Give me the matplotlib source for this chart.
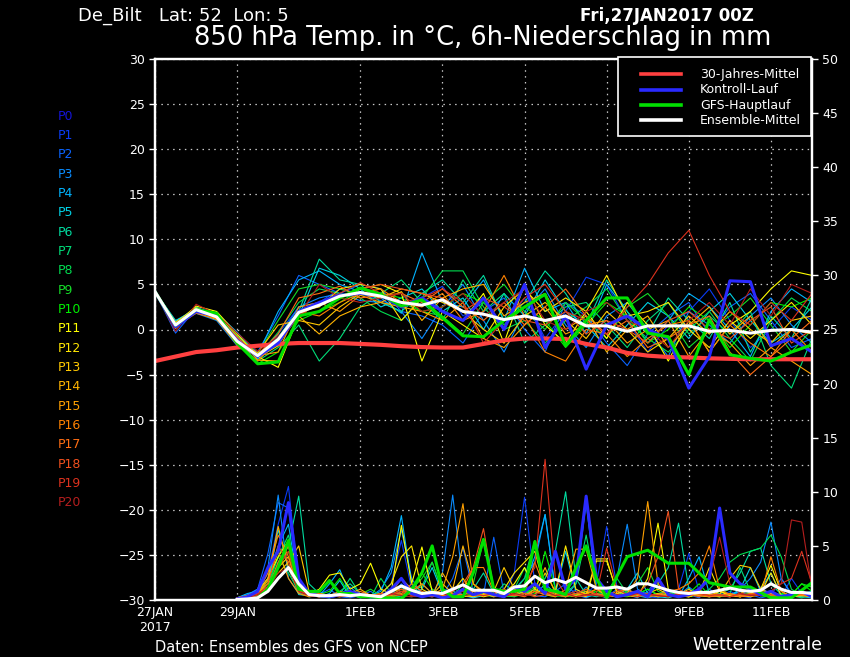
import numpy as np
import matplotlib
matplotlib.use("Agg")
import matplotlib.pyplot as plt
from matplotlib.lines import Line2D
from matplotlib.patches import Rectangle

# time axes in hours after 27JAN2017 00Z
temp_hours = np.arange(0, 385, 12)
precip_hours = np.arange(48, 385, 6)

tick_hours = [0, 48, 120, 168, 216, 264, 312, 360]
tick_labels = ["27JAN\n2017", "29JAN", "1FEB", "3FEB", "5FEB", "7FEB", "9FEB", "11FEB"]

member_names = ["P%d" % i for i in range(21)]
member_colors = ["#1414d8", "#0a3cf5", "#0a64ff", "#0a8cff", "#00b4ff", "#00d2e6",
                 "#00dca0", "#00dc78", "#00dc50", "#14dc28", "#00f000", "#ffff00",
                 "#ffe600", "#ffc800", "#ffb400", "#ffa000", "#ff8200", "#ff6e14",
                 "#f0501e", "#dc321e", "#b41e1e"]

legend_labels = ["30-Jahres-Mittel", "Kontroll-Lauf", "GFS-Hauptlauf", "Ensemble-Mittel"]
legend_colors = ["#ff4040", "#2a2aff", "#00e000", "white"]

# 850 hPa temperature (deg C), 12-hourly
climate_temp = [-3.5, -3.0, -2.5, -2.3, -2.0, -1.8, -1.6, -1.5, -1.5, -1.5, -1.6, -1.7, -1.85,
                -1.95, -2.0, -2.0, -1.6, -1.2, -1.0, -1.0, -1.05, -1.6, -2.0, -2.6, -2.9, -3.05,
                -3.1, -3.2, -3.25, -3.3, -3.3, -3.3, -3.3]
mean_temp = [4.2, 0.5, 2.2, 1.4, -1.3, -2.9, -1.1, 1.9, 2.7, 3.7, 4.1, 3.7, 3.0, 2.7, 3.3, 2.0,
             1.7, 1.1, 1.5, 1.0, 1.5, 0.4, 0.4, -0.2, 0.4, 0.4, 0.4, -0.2, -0.1, -0.4, -0.1, 0.0, -0.3]
control_temp = [4.2, 0.3, 2.0, 1.5, -1.2, -3.0, -1.5, 2.0, 3.0, 3.8, 4.0, 3.8, 2.5, 3.5, 2.0, 1.0,
                3.5, 0.0, 5.0, -2.0, 1.5, -4.4, 0.5, 1.5, 0.0, -1.0, -6.5, -3.0, 5.4, 5.3, -1.8, -1.0, -2.5]
gfs_temp = [4.2, 0.5, 2.2, 1.8, -1.5, -3.8, -3.6, 1.5, 2.0, 3.5, 4.6, 3.9, 2.6, 3.3, 1.3, -0.7,
            -0.8, 1.0, 2.5, 3.9, -1.8, 1.0, 3.5, 3.5, -0.4, -0.8, -5.0, 1.1, -2.8, -3.2, -3.5, -2.5, -1.7]

p1_temp = [4.2, 0.2, 2.0, 1.6, -0.5, -3.2, -0.5, 2.5, 3.0, 4.5, 4.0, 3.2, 2.5, 3.5, 4.8, 1.5, 3.0,
           0.5, 3.5, -1.0, 2.0, 5.8, 5.0, 1.0, -2.5, 0.5, 2.0, 4.5, 1.0, -2.0, 0.0, 2.5, 1.0]
p2_temp = [4.2, -0.4, 2.3, 1.2, -0.8, -2.5, 1.5, 6.0, 5.0, 4.0, 5.0, 4.5, 2.0, 1.5, 0.5, -1.5, 2.0,
           3.5, 0.0, -2.5, 3.0, 1.5, -1.5, -4.0, -0.5, 1.5, 3.0, -0.5, 2.5, 4.0, 1.0, -2.0, -1.0]
p3_temp = [4.2, 0.6, 1.8, 1.0, -1.8, -3.0, -1.0, 2.5, 3.5, 4.0, 3.2, 3.0, 2.0, -1.0, 2.5, 5.0, 1.0,
           -2.5, 2.0, 4.5, 0.5, -2.0, 1.5, 3.0, 0.0, -3.0, 2.0, 0.5, -1.5, 1.5, 3.5, 0.5, -1.5]
p4_temp = [4.2, 0.9, 2.4, 1.8, -0.3, -2.8, 2.0, 5.5, 6.5, 5.0, 4.2, 3.5, 1.8, 8.5, 3.0, 2.5, 5.5,
           1.0, 6.8, 2.0, 3.0, -0.5, 5.0, 2.0, -1.5, 1.0, 4.0, 2.5, 0.0, -3.0, 2.0, 4.5, 3.0]
p5_temp = [4.2, 1.0, 2.2, 1.5, -1.0, -3.3, -1.5, 1.5, 6.8, 6.0, 4.5, 2.5, 3.5, 4.5, 2.0, 3.5, 0.0,
           4.0, 1.5, 5.5, 2.0, 0.5, -2.0, 0.5, 3.0, 1.5, -1.0, 2.0, 4.0, 1.0, -1.5, 0.0, 2.5]
p6_temp = [4.2, 0.4, 2.5, 1.4, -1.2, -3.0, -0.8, 2.0, 7.8, 5.5, 5.0, 3.0, 2.0, 4.0, 5.5, 3.0, 6.0,
           1.0, 3.0, 6.5, 4.0, 0.5, 5.5, 2.0, -0.5, 3.5, 1.0, -1.0, 3.0, -2.5, 1.5, -1.0, 3.5]
p7_temp = [4.2, 0.3, 2.0, 1.3, -1.5, -3.5, -2.0, 0.5, -3.5, -1.0, 2.5, 4.0, 5.5, 3.0, 1.0, 5.5, 2.0,
           4.0, -1.5, 0.5, 2.5, 3.0, 0.5, -2.0, 1.0, 3.0, -0.5, 1.5, -0.5, 2.0, -4.0, -6.5, -1.0]
p8_temp = [4.2, 0.5, 2.2, 1.6, -1.0, -3.0, -0.3, 3.0, 4.5, 4.0, 3.5, 2.0, 1.0, 3.5, 6.5, 6.5, 2.5,
           0.0, 1.0, -1.5, 1.0, 2.5, 4.5, 1.0, -1.0, -2.5, 0.0, 2.0, -1.0, -3.5, 1.0, 3.5, 2.0]
p9_temp = [4.2, 0.7, 2.3, 1.7, -0.6, -2.7, 1.0, 4.5, 5.0, 4.5, 3.8, 4.0, 3.0, 2.0, 1.5, -0.5, 3.0,
           5.0, 2.0, 0.0, 3.0, 1.0, -1.0, 2.5, 4.0, 1.5, -2.0, 0.0, 1.5, 3.5, 0.5, -2.5, 0.0]
p10_temp = [4.2, 0.2, 2.1, 1.5, -1.4, -3.8, -2.5, 1.0, 2.0, 3.0, 4.5, 4.0, 3.5, 2.0, 2.5, 4.0, 3.0,
            0.5, 2.5, 1.0, -2.0, 0.5, 3.0, 1.5, -1.5, 0.0, 2.5, 1.0, -2.0, 0.5, 3.0, 2.5, 3.5]
p11_temp = [4.2, 0.6, 2.6, 2.0, -0.5, -3.0, -4.2, 1.5, 3.0, 3.5, 4.5, 5.0, 4.0, -3.5, 2.0, 1.0, 4.0,
            -1.5, 5.0, 0.5, -1.5, 2.0, -1.0, 3.0, 0.5, -3.5, 1.0, -2.5, 0.5, 2.0, 4.5, 6.5, 6.0]
p12_temp = [4.2, 0.8, 2.4, 1.3, -1.6, -3.1, -1.8, 2.0, 2.5, 4.5, 5.0, 4.5, 1.0, 3.5, 2.0, 0.5, -1.0,
            2.5, 4.5, 2.0, 3.5, 2.0, 6.0, 1.5, 2.0, 3.0, 0.0, -2.0, 1.0, -1.0, 1.0, 3.0, 0.5]
p13_temp = [4.2, 0.4, 1.9, 1.1, -1.1, -2.6, 0.5, 1.0, 0.5, 2.5, 4.0, 3.5, 4.5, 4.0, 3.0, 2.0, 0.0,
            -1.5, 1.5, 3.0, 1.0, -1.0, 2.0, 0.0, -2.5, -1.0, 1.5, -0.5, 2.0, 0.0, -1.5, 1.0, 1.5]
p14_temp = [4.2, 0.1, 2.2, 1.8, -0.8, -3.4, -3.5, 1.5, -0.5, 1.5, 2.5, 3.0, 4.2, 1.0, 3.5, 4.5, 5.0,
            1.5, 3.0, 4.0, 0.0, 1.5, -2.5, 0.0, 1.5, -2.0, 0.5, 2.5, -0.5, 1.5, -2.0, 0.0, -0.5]
p15_temp = [4.2, 0.5, 2.0, 1.4, -1.3, -2.9, -2.5, 2.5, 3.0, 2.0, 3.8, 3.0, 2.5, 2.0, 1.0, 3.0, -1.0,
            -2.0, 0.5, 2.5, -0.5, 0.5, 1.0, -1.5, 0.0, 1.0, -3.0, 0.0, -1.5, -4.0, -2.0, -3.5, -5.0]
p16_temp = [4.2, 0.3, 1.8, 1.2, -1.7, -3.5, -1.2, 2.0, 1.5, 3.0, 4.0, 4.5, 3.0, 2.5, 4.0, 1.0, 2.0,
            6.0, 1.5, -2.5, -3.5, 0.0, -0.5, -3.0, -1.0, 0.5, 1.0, -2.5, 0.5, -1.5, -3.0, 0.0, -2.5]
p17_temp = [4.2, 0.7, 2.3, 1.6, -0.9, -2.8, -0.5, 3.5, 4.0, 4.8, 3.5, 3.8, 4.0, 3.0, 4.5, 2.5, 1.0,
            3.0, 0.5, 2.5, 4.5, 1.5, -0.5, 1.0, -2.0, -1.0, 0.5, 1.5, -2.5, -5.0, -3.0, -1.0, 1.0]
p18_temp = [4.2, 0.5, 2.1, 1.5, -1.0, -3.1, -1.0, 2.0, 2.8, 3.5, 4.5, 5.0, 4.5, 4.0, 3.5, 2.0, 3.5,
            2.5, 1.0, 0.5, 2.0, -0.5, 1.0, 0.0, -1.5, 1.0, 2.0, 0.0, -1.0, 1.0, 2.5, -1.5, 0.0]
p19_temp = [4.2, 0.2, 2.0, 1.4, -1.3, -3.0, -1.5, 1.5, 3.0, 4.0, 5.2, 4.0, 3.0, 3.5, 4.5, 3.0, -1.5,
            1.0, 3.5, 5.0, 2.0, 1.0, -0.5, 2.5, 5.0, 8.5, 11.0, 6.0, 2.0, 0.5, 3.0, 1.0, 4.0]
p20_temp = [4.2, -0.2, 2.8, 1.7, -0.4, -2.4, -0.8, 1.5, 5.0, 3.5, 3.0, 3.5, 4.0, 2.0, 2.5, 4.0, 1.5,
            3.0, 4.5, 1.0, 0.0, 2.0, 3.0, 1.0, 0.0, -2.0, 1.0, 3.0, 0.5, 4.5, 1.5, 5.0, 4.0]

# 6h precipitation (mm), from 29JAN 00Z on
mean_precip = [0.05, 0.1, 0.2, 0.8, 2.0, 3.0, 1.5, 0.5, 0.4, 0.4, 0.5, 0.4, 0.5, 0.4, 0.3, 0.8,
               1.3, 0.9, 0.6, 0.7, 0.6, 1.0, 1.4, 0.9, 0.9, 0.9, 0.6, 1.2, 1.3, 2.2, 1.6, 1.9,
               1.6, 2.1, 1.6, 1.1, 1.1, 1.2, 1.0, 1.5, 1.5, 1.2, 0.9, 0.7, 0.6, 0.7, 0.7, 0.9,
               1.1, 0.9, 0.8, 0.9, 1.5, 1.0, 0.7, 0.7, 0.6]
gfs_precip = [0, 0, 0.2, 1.0, 3.0, 5.5, 1.0, 0.8, 0.8, 1.8, 0.6, 0.6, 0.3, 0.3, 0.2, 0.2,
              0.1, 1.0, 2.5, 5.0, 1.0, 0.3, 0.3, 2.5, 5.6, 1.0, 0.8, 0.8, 1.0, 5.4, 1.0, 0.8,
              0.5, 3.0, 5.0, 2.0, 0.2, 2.2, 4.0, 4.3, 4.6, 4.0, 3.4, 3.4, 3.4, 2.5, 1.6, 1.4,
              1.2, 1.2, 1.2, 0.7, 0.2, 0.2, 0.2, 0.9, 1.6]
control_precip = [0.1, 0.3, 0.8, 3.0, 4.5, 9.0, 2.0, 0.6, 0.4, 0.3, 0.5, 0.8, 0.5, 0.3, 0.2, 1.0,
                  2.0, 0.6, 0.3, 0.5, 0.2, 0.4, 1.0, 0.5, 0.8, 0.5, 0.3, 1.2, 0.8, 1.5, 0.6, 4.5,
                  1.0, 2.0, 9.6, 2.0, 0.8, 0.3, 0.5, 0.8, 0.3, 2.0, 0.5, 0.3, 0.5, 1.0, 2.0, 8.5,
                  2.5, 1.5, 1.0, 0.5, 0.8, 0.3, 0.5, 0.8, 0.3]

p1_precip = [0.1, 0.3, 0.6, 2.5, 7.0, 10.5, 1.5, 0.5, 0.3, 0.2, 0.4, 0.6, 0.3, 0.2, 0.5, 1.5,
             5.5, 1.0, 0.4, 0.3, 0.5, 1.2, 0.4, 0.2, 0.6, 0.8, 0.3, 2.5, 9.5, 1.5, 0.5, 0.8,
             0.3, 1.0, 0.5, 1.5, 6.8, 1.2, 0.4, 0.6, 0.3, 0.2, 0.5, 1.0, 4.3, 0.8, 0.4, 0.3,
             0.8, 0.4, 0.2, 1.2, 0.5, 0.3, 2.0, 0.6, 0.3]
p2_precip = [0.2, 0.5, 1.0, 4.3, 9.0, 8.5, 1.0, 0.4, 0.5, 1.0, 0.3, 0.2, 0.4, 0.8, 0.2, 0.5,
             1.5, 0.6, 0.3, 1.0, 0.4, 2.0, 4.8, 0.8, 0.5, 5.8, 0.6, 0.3, 1.0, 0.4, 0.3, 0.8,
             1.5, 0.5, 0.2, 0.6, 0.3, 1.0, 0.5, 0.2, 0.8, 2.0, 0.4, 0.3, 0.5, 0.2, 1.0, 0.4,
             0.3, 0.8, 0.5, 0.2, 0.4, 2.0, 0.6, 0.3, 0.5]
p3_precip = [0.1, 0.4, 1.0, 3.0, 9.7, 2.0, 0.6, 0.5, 0.8, 0.3, 0.5, 1.2, 0.4, 0.3, 1.0, 2.5,
             6.5, 2.0, 0.5, 0.3, 2.5, 9.7, 1.5, 0.5, 0.4, 0.6, 0.3, 1.0, 2.0, 3.5, 7.9, 1.0,
             0.5, 0.3, 1.2, 0.4, 0.8, 2.0, 7.0, 1.0, 0.5, 0.3, 0.8, 0.4, 1.2, 0.5, 0.3, 0.6,
             0.4, 1.0, 2.0, 3.5, 7.2, 2.0, 0.5, 0.3, 0.4]
p4_precip = [0.2, 0.6, 0.8, 2.0, 5.0, 7.0, 1.0, 0.3, 0.4, 1.5, 2.8, 0.5, 0.2, 0.4, 0.8, 3.0,
             7.8, 1.5, 0.3, 0.5, 0.4, 0.8, 0.5, 0.3, 1.0, 0.5, 0.4, 0.6, 1.5, 4.0, 7.9, 0.8,
             0.3, 1.5, 9.0, 1.0, 0.5, 0.3, 0.6, 0.4, 0.2, 0.5, 1.0, 0.3, 2.0, 4.0, 0.6, 0.3,
             0.5, 0.8, 0.3, 1.0, 2.5, 0.4, 0.3, 0.6, 0.8]
p5_precip = [0.1, 0.2, 0.5, 1.5, 6.5, 3.0, 0.5, 0.4, 0.3, 0.6, 1.8, 0.3, 0.5, 0.2, 0.3, 0.8,
             1.2, 0.5, 1.0, 3.0, 0.6, 0.3, 0.5, 0.2, 0.4, 1.0, 0.3, 0.5, 0.8, 0.4, 1.5, 0.6,
             4.5, 0.8, 0.3, 0.5, 0.2, 0.6, 1.0, 2.5, 0.6, 0.3, 0.2, 0.5, 0.8, 0.3, 0.6, 0.4,
             0.3, 1.0, 3.0, 0.8, 0.4, 0.2, 0.5, 0.3, 0.2]
p6_precip = [0.1, 0.3, 0.5, 1.0, 3.5, 5.0, 9.6, 1.5, 0.6, 0.4, 0.8, 1.5, 0.6, 0.3, 0.4, 0.2,
             0.8, 0.5, 1.5, 0.6, 0.3, 0.8, 0.4, 1.0, 2.5, 0.6, 0.3, 0.4, 0.6, 1.0, 2.0, 4.5,
             10.0, 2.0, 0.5, 0.3, 0.6, 0.4, 1.0, 0.5, 0.3, 1.5, 3.0, 7.1, 1.0, 0.5, 0.3, 0.6,
             1.0, 2.5, 4.5, 4.8, 1.5, 0.5, 0.3, 0.4, 0.6]
p7_precip = [0.2, 0.4, 0.6, 1.5, 4.0, 6.0, 1.2, 0.5, 0.3, 0.2, 0.5, 2.0, 0.5, 0.3, 0.6, 0.4,
             0.3, 1.0, 1.2, 3.5, 0.8, 0.4, 0.3, 0.6, 0.5, 0.3, 1.5, 0.8, 2.0, 5.5, 1.0, 0.4,
             0.6, 1.5, 6.0, 1.0, 0.4, 0.3, 0.8, 0.5, 1.0, 0.4, 0.3, 0.6, 0.5, 1.0, 0.4, 0.3,
             0.6, 3.0, 0.8, 0.4, 0.3, 0.6, 0.4, 0.2, 0.5]
p8_precip = [0.1, 0.2, 0.8, 1.2, 4.0, 2.5, 0.8, 0.4, 0.6, 0.3, 0.4, 0.5, 0.3, 0.2, 2.0, 0.6,
             0.4, 0.3, 0.5, 0.8, 0.4, 0.3, 1.5, 0.5, 0.6, 0.4, 0.3, 1.0, 3.0, 0.8, 0.5, 0.3,
             0.6, 0.4, 1.0, 0.5, 0.3, 2.0, 0.6, 0.4, 0.5, 0.3, 0.8, 0.4, 0.3, 0.5, 1.0, 2.0,
             3.5, 4.2, 4.5, 4.8, 6.0, 4.0, 1.0, 0.4, 0.3]
p9_precip = [0.1, 0.3, 0.5, 1.8, 3.0, 5.0, 1.0, 0.3, 0.4, 0.2, 0.6, 0.3, 0.5, 1.0, 0.4, 0.3,
             0.6, 1.0, 2.0, 3.5, 0.8, 0.4, 0.3, 1.5, 5.5, 1.0, 0.4, 0.3, 0.6, 1.2, 0.8, 0.4,
             0.3, 0.5, 1.0, 0.6, 0.4, 0.3, 0.8, 1.5, 3.0, 0.8, 0.4, 0.3, 0.6, 0.4, 0.3, 0.8,
             0.5, 0.3, 0.6, 1.0, 0.4, 0.3, 0.5, 1.5, 1.2]
p10_precip = [0.2, 0.3, 0.6, 1.5, 3.0, 4.5, 1.0, 0.6, 0.5, 0.8, 2.0, 0.5, 0.3, 0.4, 0.2, 0.5,
              1.0, 0.6, 2.5, 1.0, 0.3, 0.5, 0.4, 0.6, 0.8, 0.4, 0.3, 0.5, 1.0, 0.6, 4.5, 1.0,
              0.4, 0.3, 0.6, 0.8, 0.5, 0.4, 0.3, 0.6, 1.0, 0.5, 0.3, 0.4, 0.6, 1.5, 0.4, 0.3,
              0.5, 0.3, 0.8, 0.4, 0.3, 0.6, 0.5, 1.5, 0.8]
p11_precip = [0.1, 0.4, 0.8, 2.0, 4.0, 5.5, 1.0, 0.5, 1.0, 2.3, 2.5, 1.0, 1.5, 3.4, 1.0, 0.6,
              6.9, 1.5, 4.9, 0.8, 0.4, 0.6, 0.3, 0.5, 1.0, 0.4, 0.6, 1.5, 3.0, 1.0, 0.5, 0.8,
              0.4, 0.6, 0.3, 3.6, 3.6, 0.8, 0.5, 0.3, 2.0, 7.1, 1.0, 0.5, 0.3, 0.6, 0.4, 0.8,
              0.5, 0.3, 0.6, 1.0, 3.2, 0.8, 0.3, 0.4, 0.5]
p12_precip = [0.2, 0.3, 0.5, 1.2, 3.0, 4.0, 0.8, 0.4, 0.6, 0.4, 0.3, 0.8, 0.5, 0.3, 0.6, 1.5,
              4.0, 5.0, 1.0, 0.5, 0.4, 0.8, 2.0, 0.6, 0.3, 0.5, 1.0, 2.5, 3.5, 4.5, 1.0, 0.8,
              5.0, 1.0, 0.5, 3.8, 3.8, 0.6, 0.4, 0.3, 0.6, 1.0, 0.5, 0.4, 0.3, 0.6, 3.0, 0.8,
              0.4, 0.3, 0.5, 0.6, 2.5, 0.4, 0.3, 0.5, 0.3]
p13_precip = [0.1, 0.2, 0.6, 1.5, 2.5, 3.5, 5.0, 0.8, 0.4, 0.3, 0.6, 0.4, 0.3, 0.5, 0.4, 0.8,
              1.0, 0.6, 0.3, 0.5, 1.5, 0.6, 0.4, 0.3, 0.5, 0.8, 3.0, 1.0, 0.6, 0.4, 2.5, 0.8,
              0.5, 0.3, 0.6, 1.0, 0.4, 0.3, 0.5, 0.8, 0.4, 0.6, 0.3, 0.5, 1.0, 0.4, 0.3, 0.5,
              2.0, 3.2, 3.0, 1.0, 0.6, 0.3, 0.4, 0.5, 0.3]
p14_precip = [0.2, 0.4, 0.7, 2.0, 6.8, 3.0, 0.8, 0.4, 0.3, 0.5, 0.4, 0.6, 1.0, 0.4, 0.3, 0.6,
              2.0, 1.0, 0.5, 0.4, 2.5, 1.0, 5.0, 1.5, 0.6, 0.3, 0.5, 0.8, 0.4, 1.0, 3.0, 0.6,
              0.5, 0.4, 0.8, 0.5, 0.3, 0.6, 1.0, 0.4, 0.5, 0.3, 0.6, 0.4, 0.3, 0.8, 0.5, 0.3,
              0.6, 0.4, 0.3, 0.5, 0.8, 0.4, 0.3, 0.6, 0.4]
p15_precip = [0.1, 0.3, 0.6, 1.8, 4.5, 2.0, 0.6, 0.3, 0.5, 0.3, 0.6, 0.4, 0.3, 0.5, 0.2, 0.4,
              0.8, 0.6, 0.4, 0.5, 1.0, 4.0, 8.9, 1.5, 0.8, 0.5, 0.3, 0.6, 0.4, 0.8, 0.5, 0.3,
              1.0, 4.7, 4.7, 1.0, 0.5, 0.3, 0.6, 2.0, 9.1, 1.5, 0.5, 0.3, 0.6, 0.4, 0.8, 0.5,
              0.3, 0.6, 1.0, 0.4, 0.5, 0.3, 0.6, 0.4, 0.3]
p16_precip = [0.2, 0.4, 0.8, 2.5, 6.0, 4.0, 0.8, 0.5, 0.3, 0.4, 0.8, 0.5, 0.3, 0.4, 0.6, 0.3,
              0.5, 0.8, 1.5, 0.6, 0.4, 0.5, 1.0, 3.0, 3.0, 0.8, 0.6, 0.4, 0.6, 3.5, 1.0, 0.5,
              0.3, 0.6, 0.5, 1.0, 0.8, 0.4, 0.6, 0.5, 0.3, 0.5, 0.8, 1.0, 1.5, 2.5, 5.0, 1.0,
              0.5, 0.3, 0.6, 0.4, 4.0, 0.8, 0.3, 0.5, 0.4]
p17_precip = [0.1, 0.3, 0.5, 1.0, 3.5, 5.0, 1.0, 0.4, 0.6, 0.4, 0.3, 0.5, 0.8, 0.4, 0.3, 0.5,
              0.6, 1.5, 0.8, 0.4, 0.3, 0.6, 0.5, 0.8, 0.4, 0.6, 1.0, 0.5, 0.3, 0.8, 0.6, 0.4,
              0.5, 0.3, 0.4, 0.6, 0.4, 0.8, 1.0, 0.5, 0.3, 0.5, 0.4, 0.6, 0.8, 0.5, 0.3, 0.4,
              0.6, 0.3, 0.5, 0.8, 0.4, 0.3, 0.6, 0.5, 0.3]
p18_precip = [0.1, 0.2, 0.4, 1.5, 5.0, 3.5, 0.8, 0.4, 0.3, 0.5, 0.4, 0.6, 0.4, 0.3, 0.6, 0.5,
              1.0, 0.6, 0.4, 0.3, 0.5, 0.8, 1.5, 3.0, 6.6, 1.0, 0.5, 0.4, 0.6, 0.3, 0.5, 0.8,
              0.4, 0.6, 1.0, 0.5, 0.3, 0.5, 0.4, 0.6, 1.5, 4.0, 8.2, 1.0, 0.5, 0.3, 0.6, 0.4,
              0.3, 0.5, 0.4, 0.8, 0.5, 0.3, 0.4, 0.6, 0.4]
p19_precip = [0.2, 0.3, 0.6, 1.2, 3.0, 4.5, 1.0, 0.5, 0.4, 0.3, 0.5, 0.4, 0.6, 0.3, 0.4, 0.5,
              0.8, 0.4, 0.3, 0.5, 0.6, 0.4, 0.8, 0.5, 0.4, 0.6, 1.0, 0.5, 1.5, 3.0, 13.0, 2.0,
              0.5, 0.8, 0.4, 0.6, 4.8, 1.0, 0.5, 0.3, 0.6, 0.4, 0.3, 0.5, 0.8, 0.6, 0.4, 0.5,
              0.3, 0.6, 0.5, 0.4, 0.8, 1.5, 2.0, 4.5, 1.5]
p20_precip = [0.1, 0.2, 0.5, 1.0, 2.5, 3.0, 0.8, 0.4, 0.3, 0.5, 0.4, 0.3, 0.5, 0.4, 0.3, 0.6,
              0.4, 0.3, 0.5, 0.4, 0.6, 0.3, 0.4, 0.5, 0.8, 0.5, 0.3, 0.6, 0.4, 0.5, 0.8, 0.4,
              0.6, 0.3, 0.5, 0.4, 0.3, 0.5, 0.4, 0.6, 0.5, 0.4, 0.3, 0.6, 0.4, 0.8, 2.0, 5.8,
              1.5, 0.6, 0.4, 0.5, 0.8, 1.5, 7.4, 7.2, 1.0]

member_temps = [p1_temp, p2_temp, p3_temp, p4_temp, p5_temp, p6_temp, p7_temp, p8_temp, p9_temp,
                p10_temp, p11_temp, p12_temp, p13_temp, p14_temp, p15_temp, p16_temp, p17_temp,
                p18_temp, p19_temp, p20_temp]
member_precips = [p1_precip, p2_precip, p3_precip, p4_precip, p5_precip, p6_precip, p7_precip,
                  p8_precip, p9_precip, p10_precip, p11_precip, p12_precip, p13_precip, p14_precip,
                  p15_precip, p16_precip, p17_precip, p18_precip, p19_precip, p20_precip]

W, H = 850, 657
fig = plt.figure(figsize=(W / 100, H / 100), dpi=100, facecolor="black")
ax = fig.add_axes([155 / W, 57 / H, 657 / W, 541 / H])
ax.set_facecolor("black")
ax2 = ax.twinx()

# temperature (left axis)
for vals, col in zip(member_temps, member_colors[1:]):
    ax.plot(temp_hours, vals, color=col, lw=0.8)
ax.plot(temp_hours, climate_temp, color="#ff4040", lw=3.0)
ax.plot(temp_hours, control_temp, color="#2a2aff", lw=2.2)
ax.plot(temp_hours, gfs_temp, color="#00e000", lw=2.2)
ax.plot(temp_hours, mean_temp, color="white", lw=2.2)

# precipitation (right axis)
for vals, col in zip(member_precips, member_colors[1:]):
    ax2.plot(precip_hours, vals, color=col, lw=0.8)
ax2.plot(precip_hours, control_precip, color="#2a2aff", lw=2.2)
ax2.plot(precip_hours, gfs_precip, color="#00e000", lw=2.2)
ax2.plot(precip_hours, mean_precip, color="white", lw=2.2)

ax.set_xlim(0, 384)
ax.set_ylim(-30, 30)
ax2.set_ylim(0, 50)
ax.set_yticks(range(-30, 31, 5))
ax2.set_yticks(range(0, 51, 5))
ax.set_xticks(tick_hours)
ax.set_xticklabels(tick_labels)
ax.grid(True, color="#c8c8c8", linestyle=(0, (1.2, 3.5)), linewidth=0.9)

for a in (ax, ax2):
    for sp in a.spines.values():
        sp.set_color("white")
        sp.set_linewidth(1.6)
ax.tick_params(axis="y", colors="white", labelsize=9, length=4, width=1, direction="out")
ax2.tick_params(axis="y", colors="white", labelsize=9, length=4, width=1, direction="out")
ax.tick_params(axis="x", colors="white", labelsize=9, length=0, pad=4)

# legend box, drawn in figure pixels
fig.add_artist(Rectangle((618 / W, 1 - 136 / H), 193 / W, 79 / H, transform=fig.transFigure,
                         facecolor="black", edgecolor="white", lw=1.2, zorder=5))
for i, (lab, col) in enumerate(zip(legend_labels, legend_colors)):
    yy = 1 - (74.3 + i * 15.35) / H
    fig.add_artist(Line2D([641 / W, 681 / W], [yy, yy], transform=fig.transFigure,
                          color=col, lw=2.6, zorder=6))
    fig.text(700 / W, yy, lab, color="white", fontsize=9, va="center", zorder=6)

# member labels on the left
for i, (name, col) in enumerate(zip(member_names, member_colors)):
    fig.text(58 / W, 1 - (116 + i * 19.35) / H, name, color=col, fontsize=9, va="center")

fig.text(78 / W, 1 - 16 / H, "De_Bilt   Lat: 52  Lon: 5", color="white", fontsize=13, va="center")
fig.text(580 / W, 1 - 16 / H, "Fri,27JAN2017 00Z", color="white", fontsize=12,
         fontweight="bold", va="center")
fig.text(483 / W, 1 - 38 / H, "850 hPa Temp. in °C, 6h-Niederschlag in mm", color="white",
         fontsize=18.5, ha="center", va="center")
fig.text(155 / W, 1 - 647 / H, "Daten: Ensembles des GFS von NCEP", color="white",
         fontsize=10.5, va="center")
fig.text(822 / W, 1 - 645 / H, "Wetterzentrale", color="white", fontsize=12.5,
         ha="right", va="center")

fig.savefig("out.png", dpi=100, facecolor="black")
